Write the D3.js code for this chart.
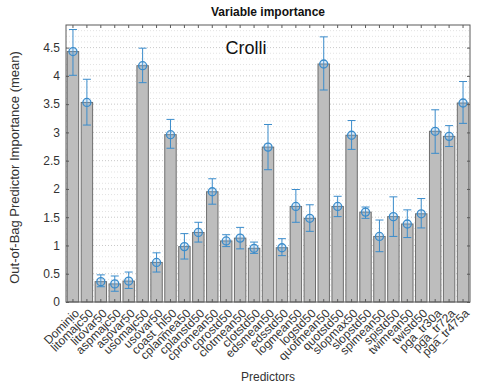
<!DOCTYPE html>
<html>
<head>
<meta charset="utf-8">
<script src="https://cdn.jsdelivr.net/npm/d3@7"></script>
<style>
  body { margin: 0; background: #fff; }
  svg { font-family: "Liberation Sans", Arial, sans-serif; }
</style>
</head>
<body>
<div id="chart"></div>
<script>
const predictors = ["Dominio","litomajc50","litovar50","aspmajc50","aspvar50","usomajc50","usovar50",
  "coast_hl50","cplanmea50","cplanstd50","cpromean50","cprostd50","clotmean50","clotstd50",
  "edsmean50","edsstd50","logmean50","logstd50","quotmean50","quotstd50","slopmax50","slopstd50",
  "spimean50","spistd50","twimean50","twistd50","pga_tr30a","pga_tr72a","pga_tr475a"];
const importance = [4.43,3.53,0.36,0.32,0.37,4.18,0.70,2.96,0.98,1.23,1.95,1.08,1.13,0.95,
  2.74,0.96,1.69,1.48,4.21,1.69,2.95,1.59,1.16,1.51,1.38,1.56,3.02,2.93,3.52];
const errUpper = [4.82,3.94,0.48,0.46,0.53,4.49,0.87,3.23,1.21,1.41,2.18,1.19,1.32,1.06,
  3.14,1.12,1.99,1.72,4.69,1.87,3.21,1.68,1.45,1.86,1.63,1.83,3.40,3.12,3.90];
const errLower = [4.01,3.13,0.27,0.19,0.24,3.88,0.53,2.72,0.76,1.06,1.73,0.98,0.94,0.86,
  2.34,0.82,1.41,1.25,3.75,1.51,2.70,1.48,0.89,1.16,1.14,1.31,2.63,2.75,3.16];
const yTicks = [0,0.5,1,1.5,2,2.5,3,3.5,4,4.5];

const width = 482, height = 386;
const m = {top: 25, right: 12, bottom: 84, left: 66};
const plotW = width - m.left - m.right;
const plotH = height - m.top - m.bottom;

const svg = d3.select("#chart").append("svg")
  .attr("width", width).attr("height", height);

const data = predictors.map((p, i) => ({name: p, v: importance[i], hi: errUpper[i], lo: errLower[i]}));

const x = d3.scaleBand().domain(predictors).range([m.left, m.left + plotW]).paddingInner(0.18).paddingOuter(0.09);
const y = d3.scaleLinear().domain([0, 4.9]).range([m.top + plotH, m.top]);
const xc = d => x(d) + x.bandwidth() / 2;

// minor grid
svg.append("g").selectAll("line")
  .data(d3.range(1, 49).map(d => d / 10))
  .enter().append("line")
  .attr("x1", m.left).attr("x2", m.left + plotW)
  .attr("y1", d => y(d)).attr("y2", d => y(d))
  .attr("stroke", d => Math.abs(d * 2 - Math.round(d * 2)) < 1e-6 ? "#c8c8c8" : "#e2e2e2")
  .attr("stroke-dasharray", "1,2");

// bars
svg.append("g").selectAll("rect")
  .data(data).enter().append("rect")
  .attr("x", d => x(d.name))
  .attr("y", d => y(d.v))
  .attr("width", x.bandwidth())
  .attr("height", d => y(0) - y(d.v))
  .attr("fill", "#bdbdbd")
  .attr("stroke", "#6e6e6e")
  .attr("stroke-width", 1);

// error bars
const eb = svg.append("g").attr("stroke", "#3b8ccb").attr("fill", "none").attr("stroke-width", 1);
eb.selectAll(".v").data(data).enter().append("line")
  .attr("x1", d => xc(d.name)).attr("x2", d => xc(d.name))
  .attr("y1", d => y(d.lo)).attr("y2", d => y(d.hi));
eb.selectAll(".ct").data(data).enter().append("line")
  .attr("x1", d => xc(d.name) - 4).attr("x2", d => xc(d.name) + 4)
  .attr("y1", d => y(d.hi)).attr("y2", d => y(d.hi));
eb.selectAll(".cb").data(data).enter().append("line")
  .attr("x1", d => xc(d.name) - 4).attr("x2", d => xc(d.name) + 4)
  .attr("y1", d => y(d.lo)).attr("y2", d => y(d.lo));
eb.selectAll("circle").data(data).enter().append("circle")
  .attr("cx", d => xc(d.name)).attr("cy", d => y(d.v)).attr("r", 4)
  .attr("stroke-width", 1.3).attr("fill", "rgba(120,180,230,0.25)");

// axes box
const axColor = "#5a5a5a";
svg.append("rect").attr("x", m.left).attr("y", m.top).attr("width", plotW).attr("height", plotH)
  .attr("fill", "none").attr("stroke", axColor).attr("stroke-width", 1);

// y axis left & right
const yAxL = svg.append("g").attr("transform", `translate(${m.left},0)`)
  .call(d3.axisLeft(y).tickValues(yTicks).tickSize(-3).tickPadding(6).tickFormat(d3.format("")));
const yAxR = svg.append("g").attr("transform", `translate(${m.left + plotW},0)`)
  .call(d3.axisRight(y).tickValues(yTicks).tickSize(-3).tickFormat(""));
// x axis bottom & top
const xAxB = svg.append("g").attr("transform", `translate(0,${m.top + plotH})`)
  .call(d3.axisBottom(x).tickSize(-3));
const xAxT = svg.append("g").attr("transform", `translate(0,${m.top})`)
  .call(d3.axisTop(x).tickSize(-3).tickFormat(""));

[yAxL, yAxR, xAxB, xAxT].forEach(a => {
  a.select(".domain").remove();
  a.selectAll("line").attr("stroke", axColor);
});
yAxL.selectAll("text").attr("fill", "#333").style("font-size", "12px");
xAxB.selectAll("text")
  .attr("fill", "#333")
  .style("font-size", "12px")
  .style("text-anchor", "end")
  .attr("x", 0).attr("y", 0)
  .attr("dx", 0).attr("dy", "0.35em")
  .attr("transform", "translate(4,9) rotate(-45)");

// titles
svg.append("text").attr("x", m.left + plotW / 2).attr("y", 16)
  .attr("text-anchor", "middle").style("font-weight", "bold").style("font-size", "12px")
  .attr("fill", "#111").text("Variable importance");

svg.append("text").attr("x", 246).attr("y", 54)
  .attr("text-anchor", "middle").style("font-size", "18px").attr("fill", "#111").text("Crolli");

svg.append("text").attr("x", m.left + plotW / 2).attr("y", 381)
  .attr("text-anchor", "middle").style("font-size", "12px").attr("fill", "#333").text("Predictors");

svg.append("text")
  .attr("transform", `translate(19,${m.top + plotH / 2 + 4}) rotate(-90)`)
  .attr("text-anchor", "middle").style("font-size", "13px").attr("fill", "#333")
  .text("Out-of-Bag Predictor Importance (mean)");
</script>
</body>
</html>
